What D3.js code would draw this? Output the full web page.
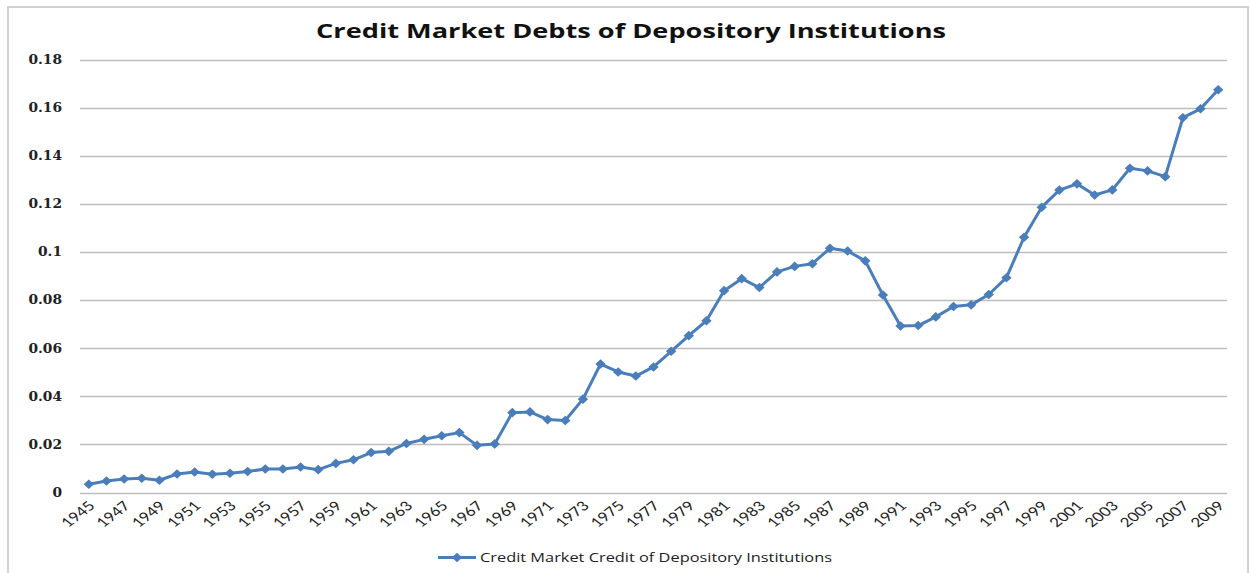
<!DOCTYPE html>
<html>
<head>
<meta charset="utf-8">
<script src="https://cdn.jsdelivr.net/npm/d3@7"></script>
<style>
  html, body { margin: 0; padding: 0; background: #fff; }
  svg { display: block; }
</style>
</head>
<body>
<svg id="chart" width="1251" height="573"></svg>
<script>
// Years on the category axis
const years = d3.range(1945, 2010);

// Credit market credit of depository institutions, one value per year
const creditValues = [
  0.0034, 0.0048, 0.0056, 0.0059, 0.0051, 0.0077, 0.0085, 0.0076, 0.0080, 0.0087,
  0.0098, 0.0098, 0.0106, 0.0095, 0.0121, 0.0136, 0.0166, 0.0171, 0.0204, 0.0221,
  0.0236, 0.0249, 0.0196, 0.0202, 0.0332, 0.0335, 0.0303, 0.0299, 0.0388, 0.0534,
  0.0501, 0.0484, 0.0522, 0.0587, 0.0652, 0.0714, 0.0839, 0.0889, 0.0852, 0.0917,
  0.0940, 0.0951, 0.1015, 0.1004, 0.0963, 0.0821, 0.0692, 0.0694, 0.0730, 0.0773,
  0.0780, 0.0823, 0.0893, 0.1061, 0.1186, 0.1257, 0.1283, 0.1237, 0.1258, 0.1348,
  0.1337, 0.1313, 0.1558, 0.1595, 0.1674
];

// Value-axis ticks and the years that carry a label
const yTicks = [0, 0.02, 0.04, 0.06, 0.08, 0.1, 0.12, 0.14, 0.16, 0.18];
const xTickLabels = years.filter((y, i) => i % 2 === 0);

const titleText = "Credit Market Debts of Depository Institutions";
const seriesName = "Credit Market Credit of Depository Institutions";

const lineColor = "#4a7ebb";
const gridColor = "#bdbdbd";
const stretch = 1.3; // horizontal widening applied to the text glyphs

const svg = d3.select("#chart");

// Outer chart frame
svg.append("rect")
  .attr("x", 8).attr("y", 7)
  .attr("width", 1240).attr("height", 580)
  .attr("fill", "#fff")
  .attr("stroke", "#d0d0d0")
  .attr("stroke-width", 2);

const plot = { left: 80, right: 1227, top: 59.5, bottom: 492.5 };

const x = d3.scaleBand()
  .domain(years)
  .range([plot.left, plot.right])
  .paddingInner(0).paddingOuter(0);

const y = d3.scaleLinear()
  .domain([0, 0.18])
  .range([plot.bottom, plot.top]);

// Horizontal gridlines
svg.append("g")
  .selectAll("line")
  .data(yTicks)
  .join("line")
  .attr("x1", plot.left).attr("x2", plot.right)
  .attr("y1", d => Math.round(y(d)) + 0.5)
  .attr("y2", d => Math.round(y(d)) + 0.5)
  .attr("stroke", gridColor)
  .attr("stroke-width", 1.3);

// Value axis labels
const yAxis = d3.axisLeft(y)
  .tickValues(yTicks)
  .tickFormat(d => d3.format("~g")(d))
  .tickSize(0)
  .tickPadding(0);

const yG = svg.append("g")
  .attr("transform", `translate(${plot.left},0)`)
  .call(yAxis);
yG.select(".domain").remove();
yG.selectAll("text")
  .attr("x", 0)
  .attr("font-family", "'DejaVu Serif', serif")
  .attr("font-weight", "bold")
  .attr("font-size", 12)
  .attr("fill", "#222")
  .attr("transform", "translate(-18,0) scale(1.15,1)");

// Category axis labels, rotated
const xAxis = d3.axisBottom(x)
  .tickValues(xTickLabels)
  .tickSize(0)
  .tickPadding(0);

const xG = svg.append("g")
  .attr("transform", `translate(0,${plot.bottom})`)
  .call(xAxis);
xG.select(".domain").remove();
xG.selectAll("text")
  .attr("y", 0)
  .attr("font-family", "Lato, 'Open Sans', sans-serif")
  .attr("font-size", 13)
  .attr("fill", "#222")
  .attr("text-anchor", "end")
  .attr("dy", "0.35em")
  .attr("transform", `translate(3,11) scale(${stretch},1) rotate(-45)`);

// Series line
const cx = d => x(d) + x.bandwidth() / 2;
const pts = years.map((yr, i) => [cx(yr), y(creditValues[i])]);

svg.append("path")
  .datum(pts)
  .attr("d", d3.line())
  .attr("fill", "none")
  .attr("stroke", lineColor)
  .attr("stroke-width", 3)
  .attr("stroke-linejoin", "round");

// Diamond markers: a square turned on its corner
const diamondPath = "M0,-4.8L5.2,0L0,4.8L-5.2,0Z";
svg.append("g")
  .selectAll("path")
  .data(pts)
  .join("path")
  .attr("d", diamondPath)
  .attr("transform", d => `translate(${d[0]},${d[1]})`)
  .attr("fill", lineColor);

// Title
svg.append("text")
  .attr("x", 631).attr("y", 38)
  .attr("text-anchor", "middle")
  .attr("font-family", "'Open Sans', sans-serif")
  .attr("font-weight", "bold")
  .attr("font-size", 20)
  .attr("fill", "#111")
  .attr("textLength", 630)
  .attr("lengthAdjust", "spacingAndGlyphs")
  .text(titleText);

// Legend
const legend = svg.append("g").attr("transform", "translate(438,557.5)");
legend.append("line")
  .attr("x1", 0).attr("x2", 38)
  .attr("y1", 0).attr("y2", 0)
  .attr("stroke", lineColor).attr("stroke-width", 3);
legend.append("path")
  .attr("d", diamondPath)
  .attr("transform", "translate(19,0)")
  .attr("fill", lineColor);
legend.append("text")
  .attr("x", 42).attr("y", 0)
  .attr("dy", "0.35em")
  .attr("font-family", "'Open Sans', sans-serif")
  .attr("font-size", 13)
  .attr("fill", "#222")
  .attr("textLength", 352)
  .attr("lengthAdjust", "spacingAndGlyphs")
  .text(seriesName);
</script>
</body>
</html>
